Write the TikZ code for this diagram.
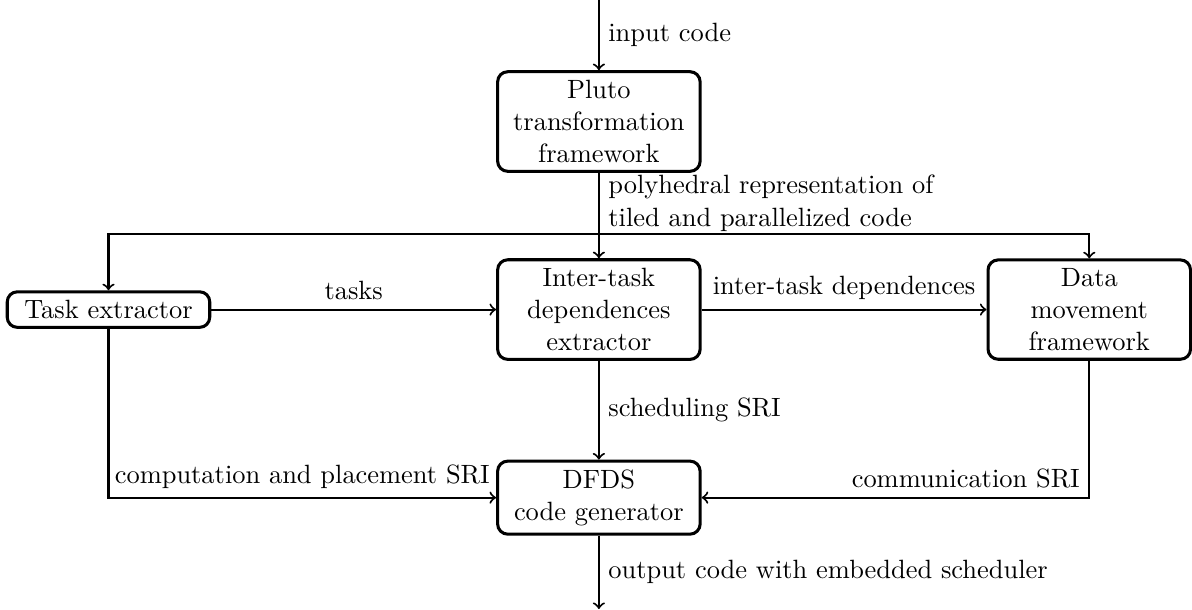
\documentclass[tikz,border=0pt]{standalone}
\usetikzlibrary{positioning}

\tikzset{
  stage/.style={draw, very thick, rounded corners, minimum width=2.8cm, align=center},
}

\begin{document}
\begin{tikzpicture}[>=to, thick, font=\fontsize{10.4}{12.6}\selectfont]
        \useasboundingbox (-8.28,-4.14) rectangle (8.2,4.28);

        \node[stage] (deps) at (0,0) {Inter-task\\dependences\\extractor};
        \node[stage] (pluto) at (0,2.6) {Pluto\\transformation\\framework};
        \node[stage] (tasks) at (-6.78,0) {Task extractor};
        \node[stage] (datamove) at (6.78,0) {Data\\movement\\framework};
        \node[stage] (dfds) at (0,-2.6) {DFDS\\code generator};
        \coordinate (in) at (0,4.28);
        \coordinate (split) at (0,1.05);
        \coordinate (out) at (0,-4.14);

        \draw[->] (in) -- (pluto) node[midway, right] {input code};
        \draw (pluto) -- (split) node[midway, right, align=left] {polyhedral representation of\\tiled and parallelized code};
        \draw[->] (split) -- (deps);
        \draw[->] (split) -| (tasks);
        \draw[->] (split) -| (datamove);
        \draw[->] (tasks) -- (deps) node[midway, above] {tasks};
        \draw[->] (deps) -- (datamove) node[midway, above] {inter-task dependences};
        \draw[->] (deps) -- (dfds) node[midway, right] {scheduling SRI};
        \draw[->] (tasks) |- (dfds) node[pos=0.75, above] {computation and placement SRI};
        \draw[->] (datamove) |- (dfds) node[pos=0.5, above left] {communication SRI};
        \draw[->] (dfds) -- (out) node[midway, right] {output code with embedded scheduler};
    \end{tikzpicture}
\end{document}
